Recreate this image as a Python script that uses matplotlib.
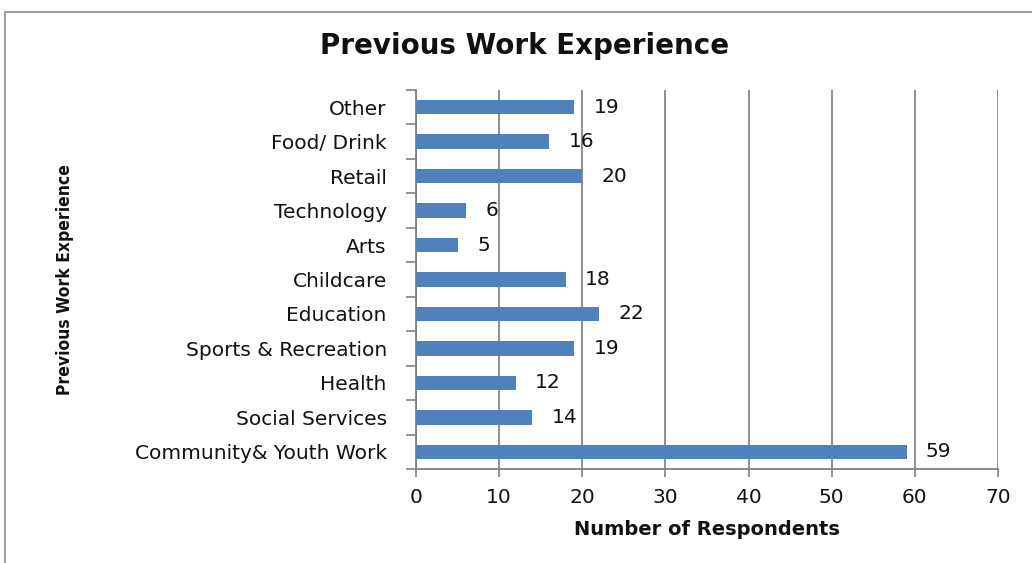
import matplotlib
matplotlib.use("Agg")
import matplotlib.pyplot as plt
from matplotlib.lines import Line2D

categories = ["Community& Youth Work", "Social Services", "Health", "Sports & Recreation",
              "Education", "Childcare", "Arts", "Technology", "Retail", "Food/ Drink", "Other"]
values = [59, 14, 12, 19, 22, 18, 5, 6, 20, 16, 19]
xticks = [0, 10, 20, 30, 40, 50, 60, 70]

plt.rcParams["font.family"] = ["DejaVu Sans"]

W, H = 1032, 563
fig = plt.figure(figsize=(W/100, H/100), dpi=100)
ax = fig.add_axes([416/W, 1-469/H, (998-416)/W, (469-90)/H])

FS = 14.5
ypos = list(range(len(categories)))
ax.barh(ypos, values, height=0.42, color="#4F81BD", zorder=3)
ax.set_xlim(0, 70)
ax.set_ylim(-0.5, len(categories)-0.5)
ax.set_xticks(xticks)
ax.set_xticklabels([str(t) for t in xticks], fontsize=FS, color="#111111")
ax.set_yticks(ypos)
ax.set_yticklabels(categories, fontsize=FS, color="#111111")
ax.tick_params(axis="y", length=0, pad=21)
ax.tick_params(axis="x", length=6, width=1.2, color="#808080", pad=8, direction="out")
ax.set_yticks([i-0.5 for i in range(len(categories)+1)], minor=True)
ax.tick_params(axis="y", which="minor", length=7, width=1.2, color="#808080")

ax.grid(axis="x", color="#868686", linewidth=1.3, zorder=0)
for s in ["top", "right"]:
    ax.spines[s].set_visible(False)
for s in ["left", "bottom"]:
    ax.spines[s].set_color("#808080")
    ax.spines[s].set_linewidth(1.3)

for y, v in zip(ypos, values):
    ax.annotate(str(v), (v, y), xytext=(14, 0), textcoords="offset points",
                va="center", ha="left", fontsize=FS, color="#111111")

ax.set_xlabel("Number of Respondents", fontsize=14, fontweight="bold", labelpad=9, color="#111111")

fig.text(525/W, 1-46/H, "Previous Work Experience", ha="center", va="center",
         fontsize=20, fontweight="bold", color="#111111")
fig.text(65/W, 1-280/H, "Previous Work Experience", ha="center", va="center",
         rotation=90, fontsize=12.5, fontweight="bold", fontstretch="condensed", color="#111111")

fig.add_artist(Line2D([5/W, 5/W], [0, 1-12/H], transform=fig.transFigure, color="#a0a0a0", lw=1.5))
fig.add_artist(Line2D([5/W, 1], [1-12/H, 1-12/H], transform=fig.transFigure, color="#a0a0a0", lw=1.5))

fig.savefig("out.png", dpi=100)
